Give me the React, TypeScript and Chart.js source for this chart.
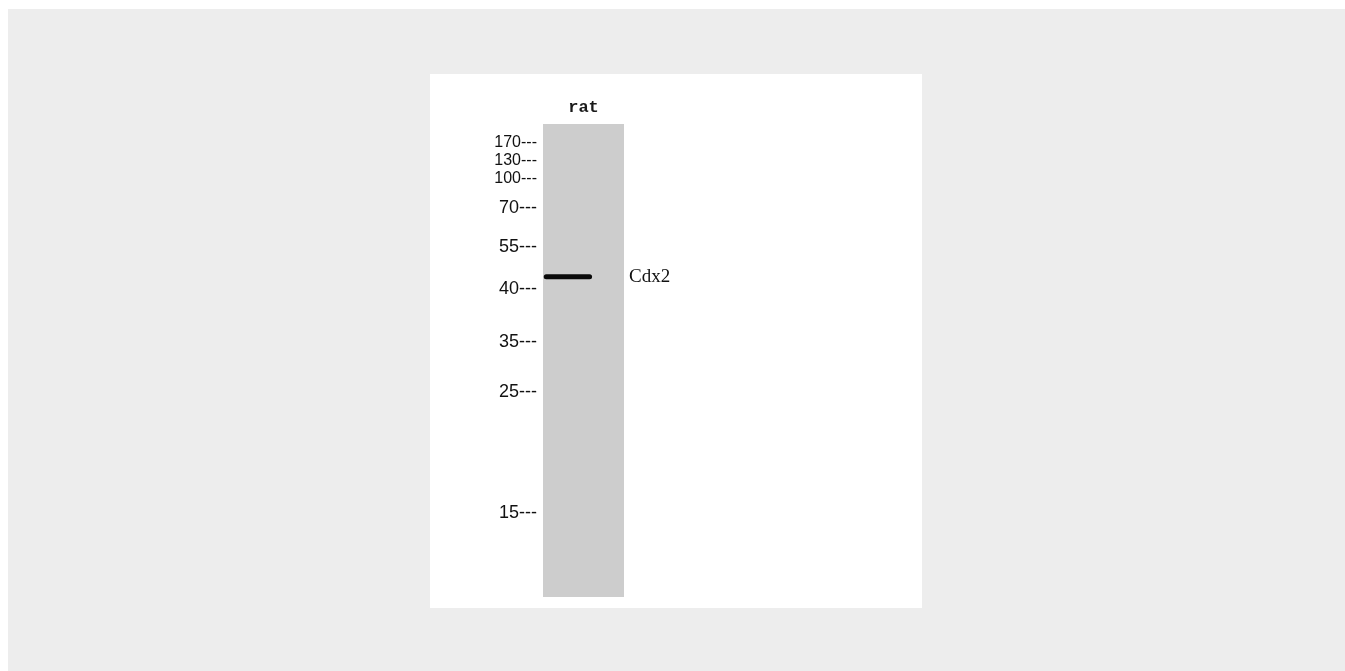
import React, { useEffect, useRef } from "react";
import { Chart, registerables } from "chart.js";

Chart.register(...registerables);

// Lane (sample) label
const laneLabels = ["rat"];
// Molecular-weight marker labels (kDa) and their relative migration down the lane (0 = top, 1 = bottom)
const markerLabels = ["170", "130", "100", "70", "55", "40", "35", "25", "15"];
const markerMigration = [0.04, 0.078, 0.116, 0.178, 0.26, 0.349, 0.461, 0.567, 0.822];
// Detected band
const bandLabels = ["Cdx2"];
const bandMigration = [0.323];
// Band extent across the lane width (fraction of lane width)
const bandSpan = [0.04, 0.575];
// Lane extent along the gel (relative migration)
const laneSpan = [0, 1];

const PANEL_W = 492;
const PANEL_H = 534;

const markerFont = "'Liberation Sans Narrow', 'Arial Narrow', 'Liberation Sans', sans-serif";

export default function App() {
  const canvasRef = useRef<HTMLCanvasElement | null>(null);

  useEffect(() => {
    const canvas = canvasRef.current;
    if (!canvas) return;
    const chart = new Chart(canvas, {
      type: "line",
      data: {
        datasets: [
          {
            label: bandLabels[0],
            data: bandSpan.map((x) => ({ x, y: bandMigration[0] })),
            borderColor: "#0a0a0a",
            borderWidth: 5,
            borderCapStyle: "round",
            pointRadius: 0,
            fill: false,
            xAxisID: "x",
            yAxisID: "y",
          },
          {
            label: laneLabels[0],
            data: [
              { x: 0, y: laneSpan[0] },
              { x: 1, y: laneSpan[0] },
            ],
            borderWidth: 0,
            borderColor: "rgba(0,0,0,0)",
            backgroundColor: "#cdcdcd",
            pointRadius: 0,
            fill: { value: laneSpan[1] },
            xAxisID: "x",
            yAxisID: "y",
          },
        ],
      },
      options: {
        animation: false,
        responsive: false,
        layout: { padding: { left: 0, right: 0, top: 0, bottom: 11 } },
        plugins: {
          legend: { display: false },
          tooltip: { enabled: false },
        },
        scales: {
          x: {
            type: "linear",
            position: "top",
            min: 0,
            max: 1,
            grid: { display: false, drawTicks: false },
            border: { display: false },
            ticks: { display: false },
            title: {
              display: true,
              text: laneLabels[0],
              color: "#1a1a1a",
              font: { family: "Liberation Mono", size: 17, weight: "bold" },
              padding: { top: 24, bottom: 0 },
            },
            afterFit(s: any) {
              s.height = 50;
              s.paddingLeft = 0;
              s.paddingRight = 0;
            },
          },
          y: {
            type: "linear",
            position: "left",
            reverse: true,
            min: 0,
            max: 1,
            afterBuildTicks(s: any) {
              s.ticks = markerMigration.map((v) => ({ value: v }));
            },
            ticks: {
              autoSkip: false,
              padding: 6,
              color: "#111",
              callback: (_v: any, i: number) => markerLabels[i] + "---",
              font: (ctx: any) => ({
                family: markerFont,
                size: (markerLabels[ctx.index] || "").length === 3 ? 16 : 18,
              }),
            },
            grid: { display: false, drawTicks: false },
            border: { display: false },
            afterFit(s: any) {
              s.width = 113;
              s.paddingTop = 0;
              s.paddingBottom = 0;
            },
          },
          yRight: {
            type: "linear",
            position: "right",
            reverse: true,
            min: 0,
            max: 1,
            afterBuildTicks(s: any) {
              s.ticks = bandMigration.map((v) => ({ value: v }));
            },
            ticks: {
              autoSkip: false,
              padding: 5,
              color: "#111",
              callback: (_v: any, i: number) => bandLabels[i],
              font: { family: "Liberation Serif", size: 19 },
            },
            grid: { display: false, drawTicks: false },
            border: { display: false },
            afterFit(s: any) {
              s.width = 298;
              s.paddingTop = 0;
              s.paddingBottom = 0;
            },
          },
        },
      } as any,
    });
    return () => chart.destroy();
  }, []);

  return (
    <div
      style={{
        position: "fixed",
        left: 8,
        top: 9,
        right: 0,
        bottom: 0,
        background: "#ededed",
      }}
    >
      <div
        style={{
          position: "absolute",
          left: 430 - 8,
          top: 74 - 9,
          width: PANEL_W,
          height: PANEL_H,
          background: "#ffffff",
        }}
      >
        <canvas
          ref={canvasRef}
          width={PANEL_W}
          height={PANEL_H}
          style={{ display: "block", width: PANEL_W, height: PANEL_H }}
        />
      </div>
    </div>
  );
}
